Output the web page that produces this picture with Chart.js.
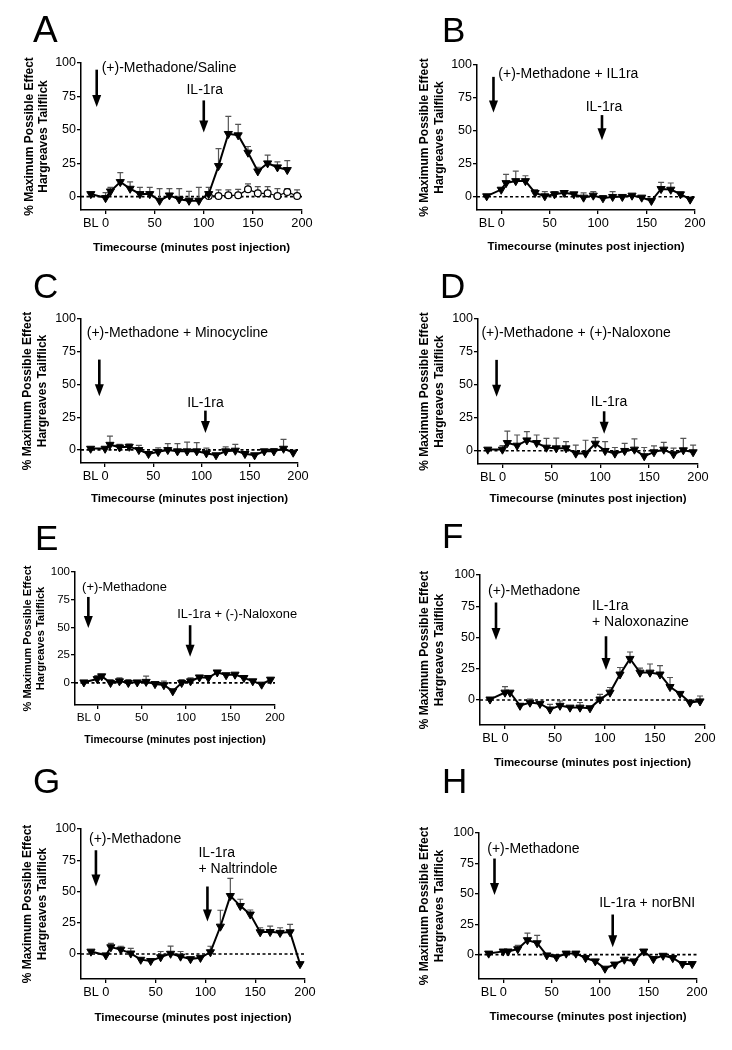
<!DOCTYPE html>
<html>
<head>
<meta charset="utf-8">
<script src="https://cdn.jsdelivr.net/npm/chart.js@4.4.1/dist/chart.umd.min.js"></script>
<style>
  body { margin: 0; background: #fff; }
  #page { position: relative; width: 732px; height: 1050px; overflow: hidden; background: #fff; }
  #page canvas { position: absolute; }
</style>
</head>
<body>
<div id="page"></div>
<script>
const FONT = "'Liberation Sans', Arial, Helvetica, sans-serif";

// sampling times (BL drawn at -15 min)
const timePoints = [-15, 0, 5, 15, 25, 35, 45, 55, 65, 75, 85, 95, 105, 115, 125, 135, 145, 155, 165, 175, 185, 195];
const salineTime = [105, 115, 125, 135, 145, 155, 165, 175, 185, 195];
const xTickValues = [-15, 0, 50, 100, 150, 200];
const xTickLabels = ['BL', '0', '50', '100', '150', '200'];
const yTickValues = [0, 25, 50, 75, 100];

// %MPE means and upper SEM
const meanA = [2, -1, 4, 11, 6, 2, 2, -3, 1, -2, -3, -3, 2, 23, 47, 46, 33, 19, 25, 22, 20];
const semA = [1, 4, 3, 7, 5, 5, 5, 9, 5, 8, 7, 10, 5, 13, 13, 8, 4.5, 3, 6, 4, 7];
const meanASaline = [0.5, 0.5, 1, 1, 5.5, 2.5, 2.5, 0.5, 3.5, 0.5];
const semASaline = [3, 4.5, 4, 4.5, 4, 5, 5, 5.5, 2.5, 4.5];

const meanB = [0.5, 5.5, 10.5, 12, 12, 3, 0.5, 2, 3, 2, -0.5, 1, -1, 0, 0, 1, -0.5, -3, 6, 5.5, 2, -2];
const semB = [1, 1, 6.5, 7.5, 4, 2.5, 3.5, 2, 1.5, 1, 3.5, 3, 2, 4, 1, 1, 1, 1, 5, 5, 1.5, 1];

const meanC = [1, 1, 4, 2, 2.5, 0, -3, -1.5, 0, -1, -1, -1, -2.5, -4, -1, -0.5, -3, -4, -1, -1, 1, -2];
const semC = [1, 1, 6.5, 2.3, 2, 3.5, 1, 3, 4.8, 5.8, 7, 6.5, 3.8, 1, 3.3, 4.8, 1, 1, 1.5, 2, 7, 1];

const meanD = [1, 1, 6, 4, 8, 6, 2.5, 2, 2, -2, -2, 5.5, 0, -2, 0, 1, -4, -1, 1, -2.5, 0.5, -1];
const semD = [1, 3, 9, 8, 6.5, 6, 7, 7.7, 5, 6.3, 10, 4.5, 7, 4.5, 5.6, 8, 6.5, 4.8, 5.4, 4.5, 9, 5.3];

const meanE = [0.5, 3.5, 6, 0, 1.5, 0, 0.5, 1, -1, -2, -7.5, 0, 1.5, 5, 4.5, 9.5, 7, 7.5, 4.5, 1.5, -1.5, 3];
const semE = [1, 3, 1.5, 3, 3, 3, 1, 5, 1, 3.5, 1, 3, 3, 1, 1, 1, 1, 1, 1, 1, 1, 1.5];

const meanF = [0.5, 6, 6, -4.5, -2, -3, -7.5, -4.5, -6, -6, -6.5, 0.5, 6, 20.5, 33, 22, 22, 20.5, 10.5, 5, -2, -1];
const semF = [1, 4.7, 1, 1, 2.8, 1, 4, 3.7, 1, 4, 1, 4, 4, 5.5, 5.4, 3.5, 6.8, 7, 7.5, 1, 1, 4.2];

const meanG = [2, -1, 5.5, 3.5, 0.5, -4.5, -5.5, -2.5, 0.3, -2, -4, -3, 1.5, 22, 46.5, 38.5, 31.7, 17.5, 17.7, 17, 17.5, -8];
const semG = [1, 1, 3, 2.7, 4, 1, 1, 4.5, 6, 4, 1, 1, 4.7, 13, 14, 5.3, 3.5, 3.5, 4.6, 4, 6.2, 1];

const meanH = [1, 2.7, 2.7, 4.6, 12, 9.5, -0.5, -2, 1, 1, -2.7, -5.4, -11.4, -8, -4, -5.4, 2.7, -3.5, -0.8, -2.7, -7.6, -7.6];
const semH = [1, 1, 1, 3, 5.7, 6.3, 1, 1, 1, 1, 1, 1, 1, 1, 1, 1, 1, 1, 1, 1, 1, 1];

// labels and arrows, anchored in data units: [text, x, y, align] / [x, fromY, tipY]
const notesA = { text: [['(+)-Methadone/Saline', -4, 96, 'left'], ['IL-1ra', 101, 80, 'center']], arrows: [[-9, 95, 67], [100, 72, 48]] };
const notesB = { text: [['(+)-Methadone + IL1ra', -3, 93, 'left'], ['IL-1ra', 106, 68, 'center']], arrows: [[-8, 91, 64], [104, 62, 43]] };
const notesC = { text: [['(+)-Methadone + Minocycline', -19, 89, 'left'], ['IL-1ra', 104, 36, 'center']], arrows: [[-6, 69, 41], [104, 30, 13]] };
const notesD = { text: [['(+)-Methadone + (+)-Naloxone', -21.5, 89, 'left'], ['IL-1ra', 109, 37, 'center']], arrows: [[-6, 69, 41], [104, 30, 13]] };
const notesE = { text: [['(+)-Methadone', -17, 86.5, 'left'], ['IL-1ra + (-)-Naloxone', 90, 62, 'left']], arrows: [[-10, 77.5, 49.5], [104.5, 52, 23.5]] };
const notesF = { text: [['(+)-Methadone', -17, 87, 'left'], ['IL-1ra', 87, 75, 'left'], ['+ Naloxonazine', 87, 62, 'left']], arrows: [[-9, 78, 48], [101, 51, 24]] };
const notesG = { text: [['(+)-Methadone', -17, 92, 'left'], ['IL-1ra', 93, 81, 'left'], ['+ Naltrindole', 93, 68, 'left']], arrows: [[-10, 83, 54], [102, 54, 26]] };
const notesH = { text: [['(+)-Methadone', -16.5, 87, 'left'], ['IL-1ra + norBNI', 99, 42, 'left']], arrows: [[-9, 79, 49], [113, 33, 6]] };

Chart.defaults.font.family = FONT;
Chart.defaults.color = '#000';

function makePanel(p) {
  const [bx, by, bw, bh] = p.box;
  const [pl, pr, pt, pb] = p.plot;
  const fs = p.fs || 1;
  const lhY = 12 * fs * 1.2, lhX = 11.5 * fs * 1.2;

  const canvas = document.createElement('canvas');
  canvas.width = bw; canvas.height = bh;
  canvas.style.left = bx + 'px';
  canvas.style.top = by + 'px';
  document.getElementById('page').appendChild(canvas);

  const yW = pl - (p.yTitleX - lhY / 2);
  const xH = p.xTitleY + lhX / 2 - pb;

  const datasets = p.series.map(s => ({
    data: s.x.map((t, i) => ({ x: t, y: s.mean[i] })),
    errorBars: s.sem,
    borderColor: '#000',
    borderWidth: s.open ? 1.2 : 2,
    pointStyle: s.open ? 'circle' : 'triangle',
    pointRotation: s.open ? 0 : 180,
    pointRadius: s.open ? 3.4 : 4.7,
    pointBackgroundColor: s.open ? '#fff' : '#000',
    pointBorderColor: '#000',
    pointBorderWidth: s.open ? 1.2 : 1,
    tension: 0,
    clip: false
  }));

  const decor = {
    id: 'decor' + p.letter,
    beforeDatasetsDraw(chart) {
      const { ctx, chartArea, scales: { x, y } } = chart;
      ctx.save();
      const y0 = y.getPixelForValue(0);
      ctx.strokeStyle = '#000';
      ctx.lineWidth = 1.6;
      ctx.setLineDash([3, 2.5]);
      ctx.beginPath();
      ctx.moveTo(chartArea.left, y0);
      ctx.lineTo(x.getPixelForValue(200), y0);
      ctx.stroke();
      ctx.setLineDash([]);
      // upper error bars
      ctx.strokeStyle = '#555';
      ctx.lineWidth = 1.2;
      chart.data.datasets.forEach((ds, di) => {
        chart.getDatasetMeta(di).data.forEach((pt, i) => {
          const top = y.getPixelForValue(ds.data[i].y + ds.errorBars[i]);
          ctx.beginPath();
          ctx.moveTo(pt.x, pt.y);
          ctx.lineTo(pt.x, top);
          ctx.moveTo(pt.x - 3, top);
          ctx.lineTo(pt.x + 3, top);
          ctx.stroke();
        });
      });
      ctx.restore();
    },
    afterDraw(chart) {
      const { ctx, scales: { x, y } } = chart;
      ctx.save();
      ctx.fillStyle = '#000';
      ctx.strokeStyle = '#000';
      p.notes.arrows.forEach(a => {
        const ax = x.getPixelForValue(a[0]);
        const y1 = y.getPixelForValue(a[1]);
        const tip = y.getPixelForValue(a[2]);
        ctx.lineWidth = 2.6;
        ctx.beginPath();
        ctx.moveTo(ax, y1);
        ctx.lineTo(ax, tip - 10);
        ctx.stroke();
        ctx.beginPath();
        ctx.moveTo(ax - 4.5, tip - 12);
        ctx.lineTo(ax + 4.5, tip - 12);
        ctx.lineTo(ax, tip);
        ctx.closePath();
        ctx.fill();
      });
      ctx.font = (14 * fs) + 'px ' + FONT;
      ctx.textBaseline = 'middle';
      p.notes.text.forEach(t => {
        ctx.textAlign = t[3];
        ctx.fillText(t[0], x.getPixelForValue(t[1]), y.getPixelForValue(t[2]));
      });
      // panel letter
      ctx.textAlign = 'left';
      ctx.textBaseline = 'alphabetic';
      ctx.font = p.letterPos[2] + 'px ' + FONT;
      ctx.fillText(p.letter, p.letterPos[0] - bx, p.letterPos[1] - by);
      ctx.restore();
    }
  };

  new Chart(canvas, {
    type: 'line',
    data: { datasets },
    plugins: [decor],
    options: {
      responsive: false,
      animation: false,
      devicePixelRatio: 1,
      layout: {
        padding: {
          left: p.yTitleX - lhY / 2 - bx,
          top: pt - by,
          right: bx + bw - pr,
          bottom: by + bh - p.xTitleY - lhX / 2
        }
      },
      plugins: { legend: { display: false }, tooltip: { enabled: false } },
      scales: {
        x: {
          type: 'linear',
          min: -25,
          max: 200,
          afterBuildTicks: s => { s.ticks = xTickValues.map(v => ({ value: v })); },
          afterFit: s => { s.height = xH; },
          ticks: {
            autoSkip: false,
            maxRotation: 0,
            padding: 2,
            font: { size: 12.8 * fs },
            callback: (v, i) => xTickLabels[i]
          },
          grid: {
            drawOnChartArea: false,
            tickLength: 4,
            lineWidth: 1.3,
            color: c => (c.tick && c.tick.value === -15) ? 'rgba(0,0,0,0)' : '#000'
          },
          border: { color: '#000', width: 1.5 },
          title: {
            display: true,
            text: 'Timecourse (minutes post injection)',
            padding: 0,
            font: { size: 11.5 * fs, weight: 'bold', lineHeight: 1.2 }
          }
        },
        y: {
          min: p.yMin,
          max: 100,
          afterBuildTicks: s => { s.ticks = yTickValues.map(v => ({ value: v })); },
          afterFit: s => { s.width = yW; },
          ticks: { padding: 1, font: { size: 12.5 * fs } },
          grid: { drawOnChartArea: false, tickLength: 4, lineWidth: 1.3, color: '#000' },
          border: { color: '#000', width: 1.5 },
          title: {
            display: true,
            text: ['% Maximum Possible Effect', 'Hargreaves Tailflick'],
            padding: 0,
            font: { size: 12 * fs, weight: 'bold', lineHeight: 1.2 }
          }
        }
      }
    }
  });
}

const tri = (mean, sem) => ({ x: timePoints.slice(0, mean.length), mean, sem });

makePanel({ letter: 'A', letterPos: [33, 42, 37], box: [0, 0, 366, 262], plot: [81, 302, 63, 210], yMin: -10, yTitleX: 29.5, xTitleY: 248,
  series: [tri(meanA, semA), { x: salineTime, mean: meanASaline, sem: semASaline, open: true }], notes: notesA });
makePanel({ letter: 'B', letterPos: [442, 42, 35], box: [366, 0, 366, 262], plot: [477, 695, 65, 210], yMin: -10, yTitleX: 425, xTitleY: 247,
  series: [tri(meanB, semB)], notes: notesB });
makePanel({ letter: 'C', letterPos: [33, 298, 35], box: [0, 258, 366, 256], plot: [81, 298, 319, 463], yMin: -10, yTitleX: 28, xTitleY: 499,
  series: [tri(meanC, semC)], notes: notesC });
makePanel({ letter: 'D', letterPos: [440, 298, 35], box: [366, 258, 366, 256], plot: [478, 698, 319, 464], yMin: -10, yTitleX: 425, xTitleY: 499,
  series: [tri(meanD, semD)], notes: notesD });
makePanel({ letter: 'E', letterPos: [35, 550, 35], box: [0, 508, 366, 264], plot: [75, 275, 572, 705], yMin: -20, yTitleX: 28, xTitleY: 740, fs: 0.92,
  series: [tri(meanE, semE)], notes: notesE });
makePanel({ letter: 'F', letterPos: [442, 548, 35], box: [366, 508, 366, 264], plot: [480, 705, 575, 725], yMin: -20, yTitleX: 425, xTitleY: 763,
  series: [tri(meanF, semF)], notes: notesF });
makePanel({ letter: 'G', letterPos: [33, 793, 35], box: [0, 760, 366, 290], plot: [81, 305, 829, 979], yMin: -20, yTitleX: 28, xTitleY: 1018,
  series: [tri(meanG, semG)], notes: notesG });
makePanel({ letter: 'H', letterPos: [442, 793, 35], box: [366, 760, 366, 290], plot: [479, 697, 833, 979], yMin: -20, yTitleX: 425, xTitleY: 1017,
  series: [tri(meanH, semH)], notes: notesH });
</script>
</body>
</html>
